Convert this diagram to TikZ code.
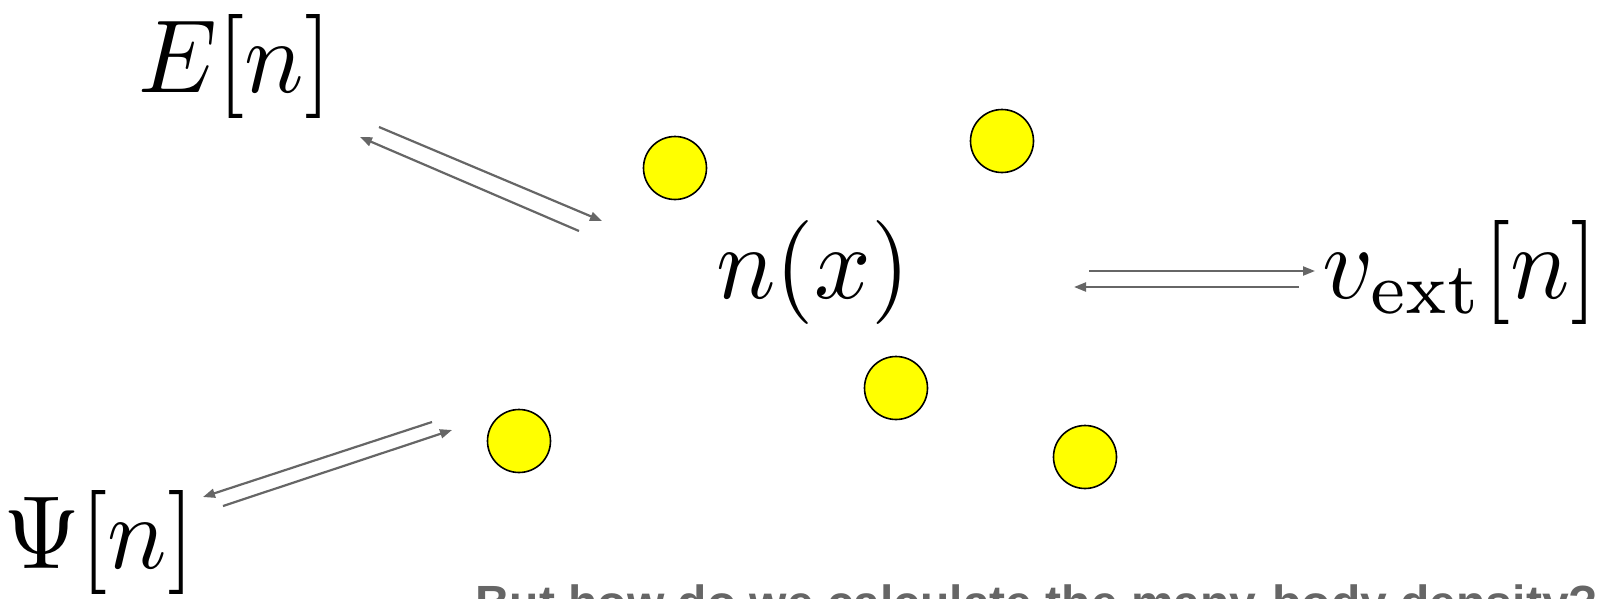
\documentclass[tikz,border=0pt]{standalone}
\usepackage{fontspec}
\newfontfamily\arialb{Liberation Sans}
\usetikzlibrary{arrows.meta}
\definecolor{arrowgray}{HTML}{666666}
\definecolor{textgray}{HTML}{666666}
\definecolor{dotyellow}{HTML}{FFFF00}
\tikzset{
  bigmath/.style={inner sep=0pt, anchor=base, xscale=9.9, yscale=10.4, transform shape},
  dot/.style={circle, draw=black, line width=1.6pt, fill=dotyellow, minimum size=63pt, inner sep=0pt},
  conn/.style={draw=arrowgray, line width=2.2pt, -{Triangle[length=12pt,width=9pt]}}
}
\begin{document}
\begin{tikzpicture}[x=1pt,y=-1pt]
\useasboundingbox (0,0) rectangle (1598,598);
\clip (0,0) rectangle (1598,598);
% labels
\node[bigmath] (E) at (235,92) {$E[n]$};
\node[bigmath] (N) at (813,298) {$n(x)$};
\node[bigmath] (V) at (1460,298) {$v_{\mathrm{ext}}[n]$};
\node[bigmath] (P) at (99,568) {$\Psi[n]$};
% dots
\node[dot] (d1) at (675,168) {};
\node[dot] (d2) at (1002,141) {};
\node[dot] (d3) at (896,388) {};
\node[dot] (d4) at (519,441) {};
\node[dot] (d5) at (1085,457) {};
% arrow endpoints
\coordinate (a1s) at (379,127);
\coordinate (a1e) at (602,221);
\coordinate (a2s) at (579,231);
\coordinate (a2e) at (360,137);
\coordinate (a3s) at (1089,271);
\coordinate (a3e) at (1315,271);
\coordinate (a4s) at (1299,287);
\coordinate (a4e) at (1074,287);
\coordinate (a5s) at (432,422);
\coordinate (a5e) at (203,497);
\coordinate (a6s) at (223,506);
\coordinate (a6e) at (452,430);
\draw[conn] (a1s) -- (a1e);
\draw[conn] (a2s) -- (a2e);
\draw[conn] (a3s) -- (a3e);
\draw[conn] (a4s) -- (a4e);
\draw[conn] (a5s) -- (a5e);
\draw[conn] (a6s) -- (a6e);
% bottom text (cut by the page edge)
\node[inner sep=0pt, anchor=base west, text=textgray, font=\arialb\bfseries\fontsize{48}{56}\selectfont] (Q) at (475,619) {But how do we calculate the many-body density?};
\end{tikzpicture}
\end{document}
